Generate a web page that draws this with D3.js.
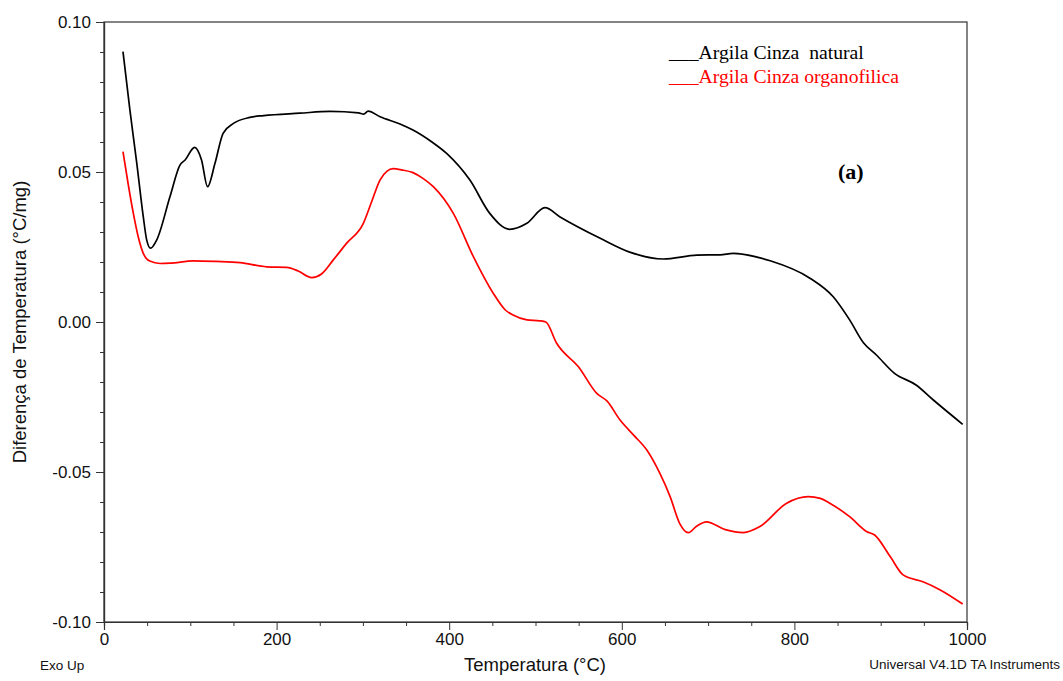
<!DOCTYPE html>
<html>
<head>
<meta charset="utf-8">
<script src="https://cdn.jsdelivr.net/npm/d3@7"></script>
<style>
  html, body { margin: 0; padding: 0; background: #fff; }
  svg { display: block; }
</style>
</head>
<body>
<svg id="chart" width="1063" height="681"></svg>
<script>
// ---- data ----
const naturalTemp = [22, 30, 38, 45.5, 49.5, 54, 61, 76.5, 88, 94, 105, 113, 120, 128.6, 138, 150, 169, 185, 227, 262, 295, 301, 306, 320, 343, 358, 380, 397, 424, 447, 470, 490, 511, 528, 575, 610, 648, 687, 714, 729, 772, 818, 845, 864, 880, 895, 916, 941, 961, 995];
const naturalVal  = [0.0901, 0.0707, 0.0529, 0.0351, 0.0273, 0.0246, 0.0273, 0.0418, 0.0523, 0.054, 0.0582, 0.054, 0.0451, 0.0529, 0.0629, 0.0662, 0.0682, 0.0688, 0.0696, 0.0702, 0.0697, 0.0693, 0.0703, 0.0684, 0.066, 0.064, 0.060, 0.0562, 0.0473, 0.0362, 0.0309, 0.0329, 0.0381, 0.0351, 0.0279, 0.0232, 0.021, 0.0223, 0.0224, 0.0229, 0.0204, 0.0146, 0.0084, 0.0007, -0.0069, -0.011, -0.0171, -0.021, -0.026, -0.0341];

const organoTemp = [22, 28, 34, 40, 45.5, 53, 65, 76.5, 103.5, 130, 157.6, 188.5, 211.7, 225, 240.7, 252, 265.7, 281, 300.5, 310, 319.8, 328, 335, 345, 358, 370, 381.6, 404.8, 428, 451, 465, 474, 490, 505, 512, 524.5, 550, 571, 583, 598, 614, 629, 644, 656, 667, 677, 687, 698, 720, 741, 760, 791, 816, 830, 841, 864, 884, 893, 911, 926, 949, 969, 995];
const organoVal  = [0.0568, 0.046, 0.0362, 0.028, 0.0229, 0.0203, 0.0195, 0.0196, 0.0204, 0.0202, 0.0198, 0.0184, 0.0182, 0.017, 0.0148, 0.016, 0.0207, 0.0262, 0.0329, 0.040, 0.0473, 0.0503, 0.0511, 0.0507, 0.0498, 0.0478, 0.0451, 0.0362, 0.0218, 0.0096, 0.004, 0.0023, 0.0007, 0.0004, 0.0, -0.0071, -0.015, -0.0238, -0.0264, -0.0327, -0.0378, -0.0427, -0.0504, -0.0582, -0.0671, -0.0702, -0.068, -0.0666, -0.0692, -0.0702, -0.0682, -0.0604, -0.0582, -0.0588, -0.0604, -0.0649, -0.0699, -0.071, -0.0782, -0.0843, -0.0866, -0.0893, -0.094];

const xTicks = [0, 200, 400, 600, 800, 1000];
const yTicks = [-0.10, -0.05, 0.00, 0.05, 0.10];
const yTickLabels = ["-0.10", "-0.05", "0.00", "0.05", "0.10"];
const seriesNames = ["___Argila Cinza  natural", "___Argila Cinza organofilica"];
const seriesColors = ["#000000", "#ff0000"];

// ---- layout ----
const svg = d3.select("#chart");
const L = 104, R = 967, T = 22, B = 622;
const x = d3.scaleLinear().domain([0, 1000]).range([L, R]);
const y = d3.scaleLinear().domain([-0.10, 0.10]).range([B, T]);

const sans = "'Liberation Sans', Arial, sans-serif";
const serif = "'Liberation Serif', 'Times New Roman', serif";

// frame
svg.append("rect").attr("x", L).attr("y", T).attr("width", R - L).attr("height", B - T)
  .attr("fill", "none").attr("stroke", "#333").attr("stroke-width", 1.2);

// minor ticks
const xMinor = d3.range(0, 1001, 50).filter(v => v % 200 !== 0);
const yMinor = d3.range(-10, 11, 1).map(v => v / 100).filter(v => Math.abs(Math.round(v * 100)) % 5 !== 0);

const xAxis = svg.append("g").attr("transform", `translate(0,${B})`)
  .call(d3.axisBottom(x).tickValues(xTicks).tickFormat(d3.format("d")).tickSize(8).tickPadding(3));
const xAxisMinor = svg.append("g").attr("transform", `translate(0,${B})`)
  .call(d3.axisBottom(x).tickValues(xMinor).tickFormat("").tickSize(4));
const yAxis = svg.append("g").attr("transform", `translate(${L},0)`)
  .call(d3.axisLeft(y).tickValues(yTicks).tickFormat((d, i) => yTickLabels[i]).tickSize(8).tickPadding(5));
const yAxisMinor = svg.append("g").attr("transform", `translate(${L},0)`)
  .call(d3.axisLeft(y).tickValues(yMinor).tickFormat("").tickSize(4));

[xAxis, xAxisMinor, yAxis, yAxisMinor].forEach(g => {
  g.select(".domain").attr("stroke", "#333").attr("stroke-width", 1.2);
  g.selectAll(".tick line").attr("stroke", "#333").attr("stroke-width", 1);
  g.selectAll("text").attr("font-family", sans).attr("font-size", 17).attr("fill", "#111");
});

// curves
const line = d3.line().x(d => x(d[0])).y(d => y(d[1])).curve(d3.curveMonotoneX);
const series = [
  d3.zip(naturalTemp, naturalVal),
  d3.zip(organoTemp, organoVal)
];
series.forEach((s, i) => {
  svg.append("path").datum(s).attr("d", line)
    .attr("fill", "none").attr("stroke", seriesColors[i]).attr("stroke-width", 1.7)
    .attr("stroke-linejoin", "round");
});

// axis titles
svg.append("text").attr("x", 535).attr("y", 671).attr("text-anchor", "middle")
  .attr("font-family", sans).attr("font-size", 18.5).attr("fill", "#111").text("Temperatura (°C)");
svg.append("text").attr("transform", "translate(26,322) rotate(-90)").attr("text-anchor", "middle")
  .attr("font-family", sans).attr("font-size", 18.5).attr("fill", "#111").text("Diferença de Temperatura (°C/mg)");

// corner notes
svg.append("text").attr("x", 40).attr("y", 670).attr("font-family", sans).attr("font-size", 13.5)
  .attr("fill", "#111").text("Exo Up");
svg.append("text").attr("x", 1060).attr("y", 669).attr("text-anchor", "end").attr("font-family", sans)
  .attr("font-size", 13.5).attr("fill", "#111").text("Universal V4.1D TA Instruments");

// legend
seriesNames.forEach((n, i) => {
  svg.append("text").attr("x", 669).attr("y", 59 + i * 24).attr("font-family", serif)
    .attr("font-size", 19.7).attr("fill", seriesColors[i]).attr("xml:space", "preserve")
    .style("white-space", "pre").style("font-variant-ligatures", "none").text(n);
});
svg.append("text").attr("x", 838).attr("y", 179).attr("font-family", serif).attr("font-weight", "bold")
  .attr("font-size", 22).attr("fill", "#000").text("(a)");
</script>
</body>
</html>
